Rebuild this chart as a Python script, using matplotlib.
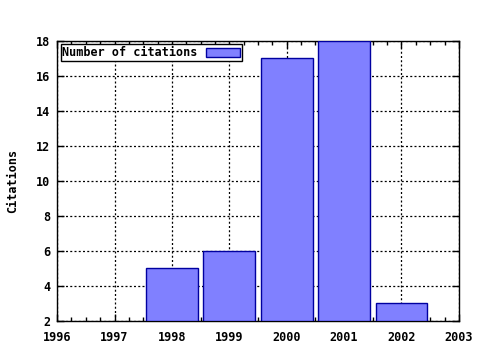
import matplotlib.pyplot as plt
from matplotlib.ticker import MultipleLocator

years = [1998, 1999, 2000, 2001, 2002]
citations = [5, 6, 17, 18, 3]

plt.rcParams['font.family'] = 'DejaVu Sans Mono'
plt.rcParams['font.weight'] = 'bold'
plt.rcParams['axes.labelweight'] = 'bold'
plt.rcParams['font.size'] = 8.5

fig = plt.figure(figsize=(4.8, 3.5), dpi=100)
ax = fig.add_axes([0.119, 0.083, 0.837, 0.8])

ax.bar(years, [c - 2 for c in citations], bottom=2, width=0.9,
       color='#8080ff', edgecolor='#0000a0', linewidth=1,
       label='Number of citations', zorder=3)

ax.set_xlim(1996, 2003)
ax.set_ylim(2, 18)
ax.xaxis.set_major_locator(MultipleLocator(1))
ax.xaxis.set_minor_locator(MultipleLocator(0.25))
ax.yaxis.set_major_locator(MultipleLocator(2))

ax.tick_params(which='both', direction='in', top=True, right=True, width=1)
ax.tick_params(which='major', length=5)
ax.tick_params(axis='x', which='major', pad=7)
ax.tick_params(axis='y', which='major', pad=5)
ax.tick_params(which='minor', length=3)
for s in ax.spines.values():
    s.set_linewidth(1)

# gnuplot-like dotted grid
ax.grid(True, which='major', linestyle=(0, (1.6, 1.8)), color='black', linewidth=0.9, zorder=1)
ax.set_axisbelow(True)

ax.set_ylabel('Citations', labelpad=12)

leg = ax.legend(loc='upper left', markerfirst=False, fancybox=False,
                framealpha=1, edgecolor='black', borderpad=0.15,
                handlelength=2.9, handleheight=0.8, borderaxespad=0.3,
                handletextpad=0.7)
leg.get_frame().set_linewidth(1)

fig.savefig('out.png')
